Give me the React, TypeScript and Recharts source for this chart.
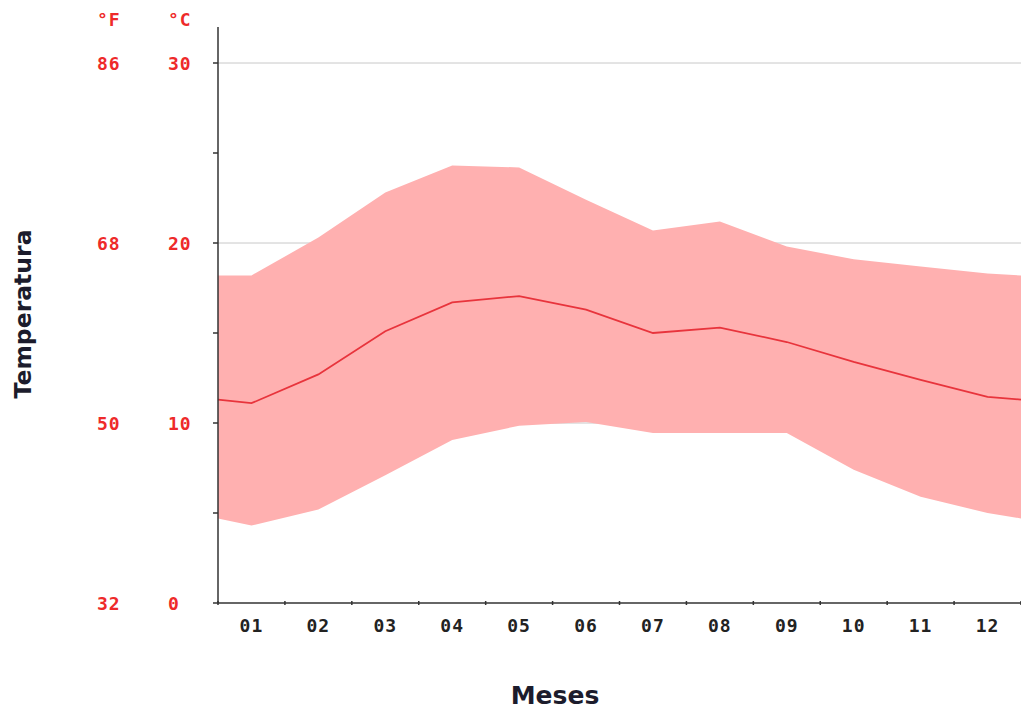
import { ComposedChart, Area, Line, XAxis, YAxis, CartesianGrid, Label } from "recharts"

const months = ["01", "02", "03", "04", "05", "06", "07", "08", "09", "10", "11", "12"]
const meanTemp = [11.1, 12.7, 15.1, 16.7, 17.05, 16.3, 15.0, 15.3, 14.5, 13.4, 12.4, 11.45]
const maxTemp = [18.2, 20.3, 22.8, 24.3, 24.2, 22.4, 20.7, 21.2, 19.8, 19.1, 18.7, 18.3]
const minTemp = [4.3, 5.2, 7.1, 9.05, 9.85, 10.05, 9.45, 9.45, 9.45, 7.4, 5.9, 5.0]
// values read at the left/right border of the plot (year wraps round)
const edgeMean = 11.3
const edgeMax = 18.2
const edgeMin = 4.7

const yDomain = [0, 32]
const celsiusTicks = [0, 5, 10, 15, 20, 25, 30]
const gridValues = [10, 20, 30]
const celsiusLabels = ["0", "10", "20", "30"]
const fahrenheitLabels = ["32", "50", "68", "86"]

const RED = "#ee2a2a"
const MONO = "'DejaVu Sans Mono', monospace"
const SANS = "'DejaVu Sans', sans-serif"

const data = [
  { x: 0, mean: edgeMean, band: [edgeMin, edgeMax] },
  ...months.map((_, i) => ({ x: i + 0.5, mean: meanTemp[i], band: [minTemp[i], maxTemp[i]] })),
  { x: 12, mean: edgeMean, band: [edgeMin, edgeMax] },
]

const xTicks = Array.from({ length: 25 }, (_, i) => i / 2)

function MonthTick({ x, y, payload }: any) {
  const v = payload.value
  if (Number.isInteger(v)) {
    return <line x1={x} x2={x} y1={y - 10} y2={y - 6} stroke="#333" strokeWidth={1.5} />
  }
  return (
    <text x={x} y={y + 21} textAnchor="middle" fontFamily={MONO} fontWeight="bold" fontSize={18}
      letterSpacing={1} fill="#222">
      {months[Math.floor(v)]}
    </text>
  )
}

function TempTick({ y, payload }: any) {
  const v = payload.value
  if (v % 10 !== 0) return null
  const idx = v / 10
  return (
    <g fontFamily={MONO} fontWeight="bold" fontSize={18} letterSpacing={1} fill={RED}>
      <text x={97} y={y + 6.5}>{fahrenheitLabels[idx]}</text>
      <text x={168} y={y + 6.5}>{celsiusLabels[idx]}</text>
    </g>
  )
}

export default function App() {
  return (
    <div style={{ position: "absolute", left: 0, top: 0, width: 1021, height: 711, background: "#fff" }}>
      <ComposedChart width={1021} height={711} data={data} margin={{ top: 27, right: 0, bottom: 0, left: 0 }}>
        <CartesianGrid
          vertical={false}
          stroke="#c8c8c8"
          horizontalCoordinatesGenerator={({ offset }: any) =>
            gridValues.map((v) => offset.top + offset.height * (1 - (v - yDomain[0]) / (yDomain[1] - yDomain[0])))
          }
        />
        <XAxis
          dataKey="x"
          type="number"
          domain={[0, 12]}
          ticks={xTicks}
          interval={0}
          height={108}
          tickLine={false}
          axisLine={{ stroke: "#333", strokeWidth: 1.5 }}
          tick={<MonthTick />}
        >
          <Label
            content={() => (
              <text x={555} y={704} textAnchor="middle" fontFamily={SANS} fontWeight="bold" fontSize={25} fill="#1c1c2c">
                Meses
              </text>
            )}
          />
        </XAxis>
        <YAxis
          type="number"
          domain={yDomain}
          ticks={celsiusTicks}
          interval={0}
          width={218}
          tickSize={5}
          tickLine={{ stroke: "#333", strokeWidth: 1.5 }}
          axisLine={{ stroke: "#333", strokeWidth: 1.5 }}
          tick={<TempTick />}
        >
          <Label
            content={() => (
              <g>
                <text x={23} y={314} transform="rotate(-90 23 314)" textAnchor="middle" dominantBaseline="central"
                  fontFamily={SANS} fontWeight="bold" fontSize={23.5} fill="#1c1c2c">
                  Temperatura
                </text>
                <g fontFamily={MONO} fontWeight="bold" fontSize={18} letterSpacing={1} fill={RED}>
                  <text x={97} y={26}>°F</text>
                  <text x={168} y={26}>°C</text>
                </g>
              </g>
            )}
          />
        </YAxis>
        <Area
          dataKey="band"
          type="linear"
          stroke="none"
          fill="#ffb0b0"
          fillOpacity={1}
          isAnimationActive={false}
          activeDot={false}
        />
        <Line
          dataKey="mean"
          type="linear"
          stroke="#e8343c"
          strokeWidth={1.8}
          dot={false}
          activeDot={false}
          isAnimationActive={false}
        />
      </ComposedChart>
    </div>
  )
}
